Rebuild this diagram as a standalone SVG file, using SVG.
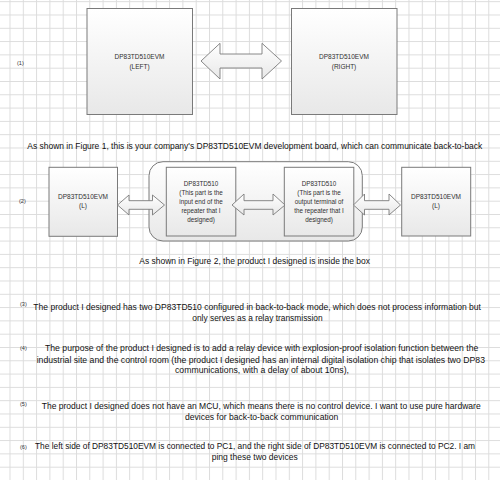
<svg xmlns="http://www.w3.org/2000/svg" width="500" height="480" viewBox="0 0 500 480">
<defs>
<pattern id="grid" patternUnits="userSpaceOnUse" x="9.5" y="1.2" width="13.3" height="13.3">
<path d="M0 0.5 H13.3 M0.5 0 V13.3" stroke="#dcdcdc" stroke-width="1" fill="none"/>
</pattern>
<linearGradient id="fillg" x1="0" y1="0" x2="0" y2="1">
<stop offset="0" stop-color="#ffffff"/>
<stop offset="1" stop-color="#e8e8e8"/>
</linearGradient>
</defs>
<style>
.box{fill:url(#fillg);stroke:#7a7a7a;stroke-width:1}
.arr{fill:url(#fillg);stroke:#7a7a7a;stroke-width:0.9;stroke-linejoin:miter}
.lbl{font-family:"Liberation Sans",Arial,sans-serif;fill:#303030;text-anchor:middle}
.big{font-size:6.5px}
.sm{font-size:6.3px}
.txt{font-family:"Liberation Sans",Arial,sans-serif;font-size:8.6px;fill:#111111}
.num{font-family:"Liberation Sans",Arial,sans-serif;font-size:5.6px;fill:#333}
</style>
<rect x="0" y="0" width="500" height="480" fill="#ffffff"/>
<rect x="0" y="0" width="500" height="480" fill="url(#grid)"/>

<text class="num" x="17" y="64.7">(1)</text>
<text class="num" x="19" y="203">(2)</text>

<g id="fig1-left">
<rect class="box" x="87" y="8.5" width="105.5" height="106"/>
<text class="lbl big" x="139.5" y="59">DP83TD510EVM</text>
<text class="lbl big" x="139.5" y="68.5">(LEFT)</text>
</g>
<g id="fig1-right">
<rect class="box" x="291.5" y="8.5" width="105.5" height="106"/>
<text class="lbl big" x="344" y="59">DP83TD510EVM</text>
<text class="lbl big" x="344" y="68.5">(RIGHT)</text>
</g>

<g id="container">
<rect class="box" x="149" y="161.7" width="213.3" height="79.3" rx="14" ry="14"/>
</g>
<g id="fig2-left">
<rect class="box" x="49" y="167.3" width="68.5" height="69"/>
<text class="lbl big" x="83" y="199">DP83TD510EVM</text>
<text class="lbl big" x="83" y="208.3">(L)</text>
</g>
<g id="repeater-in">
<rect class="box" x="166.3" y="167.3" width="69.5" height="68.7"/>
<text class="lbl sm" x="201" y="185.5">DP83TD510</text>
<text class="lbl sm" x="201" y="194.5">(This part is the</text>
<text class="lbl sm" x="201" y="203.5">input end of the</text>
<text class="lbl sm" x="201" y="212.5">repeater that I</text>
<text class="lbl sm" x="201" y="221.5">designed)</text>
</g>
<g id="repeater-out">
<rect class="box" x="284.3" y="167.3" width="69.5" height="68.7"/>
<text class="lbl sm" x="319" y="185.5">DP83TD510</text>
<text class="lbl sm" x="319" y="194.5">(This part is the</text>
<text class="lbl sm" x="319" y="203.5">output terminal of</text>
<text class="lbl sm" x="319" y="212.5">the repeater that I</text>
<text class="lbl sm" x="319" y="221.5">designed)</text>
</g>
<g id="fig2-right">
<rect class="box" x="401.7" y="167.3" width="69" height="68.7"/>
<text class="lbl big" x="436" y="199">DP83TD510EVM</text>
<text class="lbl big" x="436" y="208.3">(L)</text>
</g>

<g id="connectors">
<polygon class="arr" points="201,61 220,43.3 220,54 262,54 262,43.3 281.5,61 262,79 262,68 220,68 220,79"/>
<polygon class="arr" points="117.5,205 129,195 129,200.7 152.5,200.7 152.5,195 164.5,205 152.5,215 152.5,209.3 129,209.3 129,215"/>
<polygon class="arr" points="232,205 244,194 244,200.7 273,200.7 273,194 285,205 273,215 273,209.3 244,209.3 244,215"/>
<polygon class="arr" points="353.5,205 364.5,194 364.5,200.7 389,200.7 389,194 400.5,205 389,215 389,209.3 364.5,209.3 364.5,215"/>
</g>

<text class="txt" x="27.3" y="149.4" textLength="455" lengthAdjust="spacingAndGlyphs">As shown in Figure 1, this is your company's DP83TD510EVM development board, which can communicate back-to-back</text>
<text class="txt" x="139.3" y="264.3" textLength="230.7" lengthAdjust="spacingAndGlyphs">As shown in Figure 2, the product I designed is inside the box</text>

<text class="num" x="20" y="305.5">(3)</text>
<text class="txt" x="33.3" y="310" textLength="447.7" lengthAdjust="spacingAndGlyphs">The product I designed has two DP83TD510 configured in back-to-back mode, which does not process information but</text>
<text class="txt" x="192.3" y="321" textLength="130.4" lengthAdjust="spacingAndGlyphs">only serves as a relay transmission</text>

<text class="num" x="20" y="350">(4)</text>
<text class="txt" x="45" y="351" textLength="433.3" lengthAdjust="spacingAndGlyphs">The purpose of the product I designed is to add a relay device with explosion-proof isolation function between the</text>
<text class="txt" x="36.7" y="362.5" textLength="448.3" lengthAdjust="spacingAndGlyphs">industrial site and the control room (the product I designed has an internal digital isolation chip that isolates two DP83</text>
<text class="txt" x="175" y="372.8" textLength="174" lengthAdjust="spacingAndGlyphs">communications, with a delay of about 10ns),</text>

<text class="num" x="20" y="406">(5)</text>
<text class="txt" x="41.7" y="409.3" textLength="439" lengthAdjust="spacingAndGlyphs">The product I designed does not have an MCU, which means there is no control device. I want to use pure hardware</text>
<text class="txt" x="185" y="420.3" textLength="153.3" lengthAdjust="spacingAndGlyphs">devices for back-to-back communication</text>

<text class="num" x="20" y="448.5">(6)</text>
<text class="txt" x="35" y="448.7" textLength="440" lengthAdjust="spacingAndGlyphs">The left side of DP83TD510EVM is connected to PC1, and the right side of DP83TD510EVM is connected to PC2. I am</text>
<text class="txt" x="211.7" y="460.3" textLength="86" lengthAdjust="spacingAndGlyphs">ping these two devices</text>
</svg>
